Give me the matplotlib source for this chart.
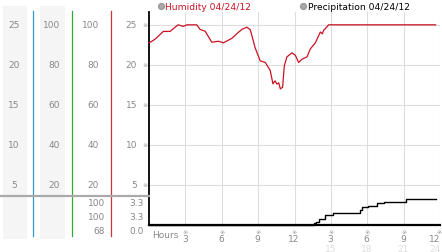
import matplotlib
matplotlib.use("Agg")
import matplotlib.pyplot as plt
from matplotlib.transforms import blended_transform_factory
from matplotlib.patches import Rectangle
from matplotlib.lines import Line2D

# ---------------- data ----------------
hum_hours = [0.0, 0.1, 0.5, 1.18, 1.74, 2.4, 2.83, 3.12, 3.94, 4.21, 4.63, 5.18, 5.73,
             6.14, 6.85, 7.25, 7.66, 8.07, 8.35, 8.76, 9.17, 9.59, 10.0, 10.22, 10.4,
             10.55, 10.7, 10.83, 11.02, 11.16, 11.38, 11.79, 12.07, 12.34, 12.62,
             13.03, 13.31, 13.72, 14.13, 14.3, 14.4, 14.82, 23.64]
hum_pct = [91.0, 91.3, 92.8, 96.7, 96.7, 100.0, 99.2, 100.0, 100.0, 97.7, 96.8, 91.3,
           91.8, 91.0, 93.3, 95.6, 97.7, 98.8, 97.6, 88.4, 82.0, 81.2, 77.2, 70.5, 72.0,
           70.4, 71.0, 68.0, 68.8, 79.6, 84.0, 86.0, 84.8, 81.2, 82.8, 84.0, 88.0, 91.0,
           96.4, 95.5, 97.2, 100.0, 100.0]

pre_hours = [0.0, 13.6, 13.8, 14.0, 14.55, 15.2, 17.4, 17.6, 18.1, 18.8, 19.4, 21.2, 23.64]
pre_vals = [0.0, 0.2, 0.4, 0.75, 1.25, 1.5, 1.9, 2.2, 2.4, 2.75, 2.9, 3.3, 3.3]

y_ticks = [5, 10, 15, 20, 25]
pct_ticks = [20, 40, 60, 80, 100]
x_ticks = [3, 6, 9, 12, 15, 18, 21, 24]
x_labels = ["3", "6", "9", "12", "3", "6", "9", "12"]
x_labels2 = ["", "", "", "", "15", "18", "21", "24"]
hum_stats = ["100", "100", "68"]
pre_stats = ["3.3", "3.3", "0.0"]
legend_names = ["Humidity 04/24/12", "Precipitation 04/24/12"]

# ---------------- figure ----------------
W, H = 442, 253
fig = plt.figure(figsize=(W / 100, H / 100), dpi=100)
fig.patch.set_facecolor("white")


def fx(x):
    return x / W


def fy(y):
    return 1 - y / H


x0, x1, ytop, ybot = 149, 440, 13, 226
ax = fig.add_axes([fx(x0), fy(ybot), (x1 - x0) / W, (ybot - ytop) / H])
ax.set_xlim(0, 24)
ax.set_ylim(0, 26.6)
ax.set_xticks(x_ticks)
ax.set_yticks(y_ticks)
ax.tick_params(length=0, labelleft=False, labelbottom=False)
ax.grid(True, color="#dddddd", lw=0.8)
ax.set_axisbelow(True)
for s in ["top", "right"]:
    ax.spines[s].set_visible(False)
ax.spines["left"].set_linewidth(1.3)
ax.spines["bottom"].set_linewidth(1.6)
ax.spines["left"].set_color("black")
ax.spines["bottom"].set_color("black")

axh = ax.twinx()
axh.set_ylim(0, 26.6 * 4)
axh.axis("off")
axh.plot(hum_hours, hum_pct, color="#cc1122", lw=0.9, clip_on=False)

ax.plot(pre_hours, pre_vals, color="black", lw=1.0, drawstyle="steps-post", clip_on=False)

gray = "#888888"
fs = 6.5

# tick marks
ty = blended_transform_factory(fig.transFigure, ax.transData)
tx = blended_transform_factory(ax.transData, fig.transFigure)
for v in y_ticks:
    fig.text(fx(145.5), v, "※", transform=ty, fontsize=4.5, color="#999999",
             ha="center", va="center")
for i, (xv, l1, l2) in enumerate(zip(x_ticks, x_labels, x_labels2)):
    last = i == len(x_ticks) - 1
    ax.text(xv - (0.08 if last else 0), fy(232.5), "※", transform=tx, fontsize=4.5,
            color="#999999", ha="center", va="center")
    if last:
        fig.text(fx(440.5), fy(239.5), l1, fontsize=fs, color=gray, ha="right", va="center")
        fig.text(fx(440.5), fy(249.5), l2, fontsize=fs, color="#dddddd", ha="right", va="center")
        continue
    ax.text(xv - 0.05, fy(239.5), l1, transform=tx, fontsize=fs, color=gray,
            ha="center", va="center")
    if l2:
        ax.text(xv - 0.05, fy(249.5), l2, transform=tx, fontsize=fs, color="#dddddd",
                ha="center", va="center")
fig.text(fx(152), fy(236), "Hours", fontsize=fs, color=gray, ha="left", va="center")

# ---------------- left panel ----------------
for xa, xb in [(2.7, 27.3), (40, 65)]:
    fig.patches.append(Rectangle((fx(xa), fy(240)), (xb - xa) / W, (240 - 7) / H,
                                 transform=fig.transFigure, facecolor="#f5f5f5",
                                 edgecolor="none", zorder=0))
for xl, col in [(33.3, "#3399cc"), (72.3, "#33aa33"), (111.3, "#cc3333")]:
    fig.add_artist(Line2D([fx(xl), fx(xl)], [fy(12), fy(237)], color=col, lw=0.9,
                          transform=fig.transFigure))
fig.add_artist(Line2D([0, fx(149)], [fy(197), fy(197)], color="#aaaaaa", lw=1.6,
                      transform=fig.transFigure))

for v, p in zip(y_ticks, pct_ticks):
    fig.text(fx(14), v, str(v), transform=ty, fontsize=fs, color=gray, ha="center", va="center")
    fig.text(fx(60), v, str(p), transform=ty, fontsize=fs, color=gray, ha="right", va="center")
    fig.text(fx(99), v, str(p), transform=ty, fontsize=fs, color=gray, ha="right", va="center")
    fig.text(fx(137), v, str(v), transform=ty, fontsize=fs, color=gray, ha="right", va="center")

for i, (a, b) in enumerate(zip(hum_stats, pre_stats)):
    yy = fy(204 + 14 * i)
    fig.text(fx(105), yy, a, fontsize=fs, color=gray, ha="right", va="center")
    fig.text(fx(144), yy, b, fontsize=fs, color=gray, ha="right", va="center")

# ---------------- legend ----------------
for (mx, tx0, col), name in zip([(160.7, 165, "#cc1122"), (303.3, 308, "black")], legend_names):
    fig.add_artist(Line2D([fx(mx)], [fy(7)], marker="o", markersize=4.2, color="#aaaaaa",
                          markeredgecolor="#999999", transform=fig.transFigure))
    fig.text(fx(tx0), fy(7.5), name, fontsize=6.6, color=col, ha="left", va="center")

fig.savefig("out.png", dpi=100, facecolor="white")
